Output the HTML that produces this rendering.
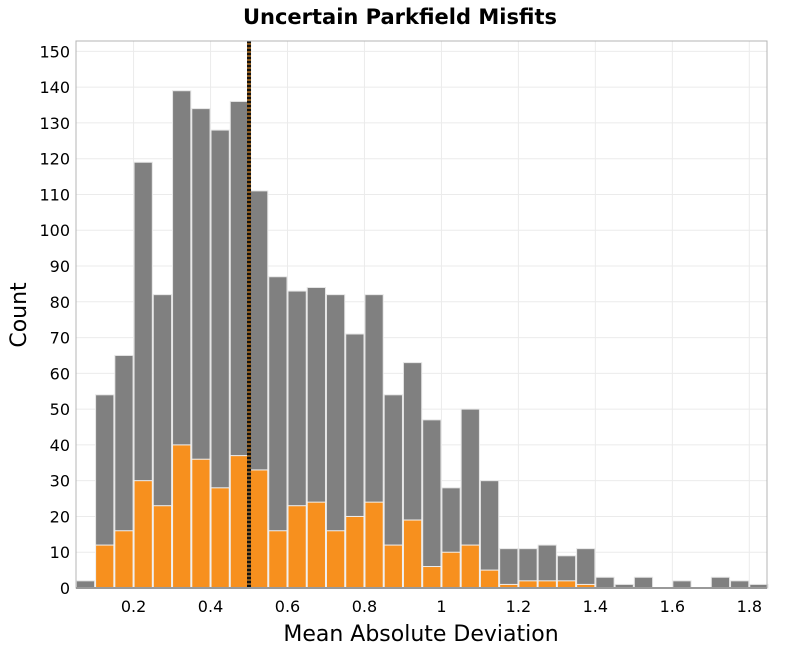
<!DOCTYPE html>
<html><head><meta charset="utf-8">
<style>
html,body{margin:0;padding:0;background:#fff;}
svg{display:block;font-family:"DejaVu Sans","Liberation Sans",sans-serif;}
</style></head>
<body>
<svg id="chart" width="800" height="650" viewBox="0 0 800 650" xmlns="http://www.w3.org/2000/svg">
<text x="400" y="24" text-anchor="middle" font-size="21" font-weight="bold" fill="#000">Uncertain Parkfield Misfits</text>
<g id="grid"></g>
<g id="bars"></g>
<g id="axes"></g>
<text x="421" y="641" text-anchor="middle" font-size="22" fill="#000">Mean Absolute Deviation</text>
<text transform="translate(26,315) rotate(-90)" text-anchor="middle" font-size="22" fill="#000">Count</text>
</svg>
<script>
const binStart = 0.05;
const binWidth = 0.05;
const totalCounts = [2,54,65,119,82,139,134,128,136,111,87,83,84,82,71,82,54,63,47,28,50,30,11,11,12,9,11,3,1,3,0,2,0,3,2,1];
const orangeCounts = [0,12,16,30,23,40,36,28,37,33,16,23,24,16,20,24,12,19,6,10,12,5,1,2,2,2,1,0,0,0,0,0,0,0,0,0];
const xTicks = [0.2,0.4,0.6,0.8,1.0,1.2,1.4,1.6,1.8];
const xTickLabels = ["0.2","0.4","0.6","0.8","1","1.2","1.4","1.6","1.8"];
const yTicks = [0,10,20,30,40,50,60,70,80,90,100,110,120,130,140,150];
const markerValue = [0.5];

const NS = "http://www.w3.org/2000/svg";
const L = 76, R = 767, T = 41, B = 588;
const xMin = 0.0504, xMax = 1.846, yMax = 152.9;
function xs(v){ return L + (v - xMin) / (xMax - xMin) * (R - L); }
function ys(v){ return B - v / yMax * (B - T); }
function mk(tag, attrs, parent){
  const e = document.createElementNS(NS, tag);
  for (const k in attrs) e.setAttribute(k, attrs[k]);
  parent.appendChild(e);
  return e;
}
const grid = document.getElementById('grid');
const bars = document.getElementById('bars');
const axes = document.getElementById('axes');

yTicks.forEach(t => {
  const l = mk('line', {x1:L, x2:R, y1:ys(t), y2:ys(t), stroke:'#ebebeb', 'stroke-width':1}, grid);
  
  
  const tx = mk('text', {x:L-6, y:ys(t)+6, 'text-anchor':'end', 'font-size':16, fill:'#000'}, axes);
  tx.textContent = t;
  
  
});
xTicks.forEach((t, i) => {
  const l = mk('line', {x1:xs(t), x2:xs(t), y1:T, y2:B, stroke:'#ebebeb', 'stroke-width':1}, grid);
  
  
  const tx = mk('text', {x:xs(t), y:B+24, 'text-anchor':'middle', 'font-size':16, fill:'#000'}, axes);
  tx.textContent = xTickLabels[i];
  
  
});

totalCounts.forEach((c, i) => {
  if (c <= 0) return;
  const x0 = xs(binStart + i * binWidth), x1 = xs(binStart + (i + 1) * binWidth);
  const r = mk('rect', {x:x0+0.5, y:ys(c), width:x1-x0-1, height:B-ys(c), fill:'#808080', stroke:'#e6e6e6', 'stroke-width':1}, bars);
  
  
});
orangeCounts.forEach((c, i) => {
  if (c <= 0) return;
  const x0 = xs(binStart + i * binWidth), x1 = xs(binStart + (i + 1) * binWidth);
  const r = mk('rect', {x:x0+0.5, y:ys(c), width:x1-x0-1, height:B-ys(c), fill:'#f7901e', stroke:'#f0f0f0', 'stroke-width':1}, bars);
  
  
});

markerValue.forEach(v => {
  const a = mk('line', {x1:xs(v), x2:xs(v), y1:T, y2:B, stroke:'#8a5a1e', 'stroke-width':4}, axes);
  
  
  const b = mk('line', {x1:xs(v), x2:xs(v), y1:T, y2:B, stroke:'#111', 'stroke-width':4, 'stroke-dasharray':'2,2'}, axes);
  
  
});

const frame = mk('rect', {x:L, y:T, width:R-L, height:B-T, fill:'none', stroke:'#b4b4b4', 'stroke-width':1}, axes);


const xa = mk('line', {x1:L, x2:R, y1:B, y2:B, stroke:'#999', 'stroke-width':2}, axes);


</script>
</body></html>
